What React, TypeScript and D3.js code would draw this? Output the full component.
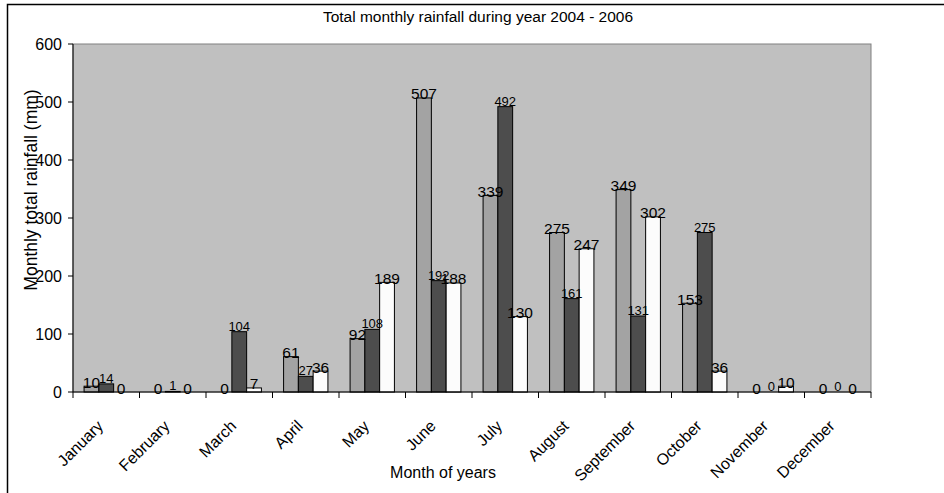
import React from "react";
import * as d3 from "d3";

const months = ["January","February","March","April","May","June","July","August","September","October","November","December"];
const seriesNames = ["2004","2005","2006"];
const rain2004 = [10, 0, 0, 61, 92, 507, 339, 275, 349, 153, 0, 0];
const rain2005 = [14, 1, 104, 27, 108, 192, 492, 161, 131, 275, 0, 0];
const rain2006 = [0, 0, 7, 36, 189, 188, 130, 247, 302, 36, 10, 0];
const yTicks = [0, 100, 200, 300, 400, 500, 600];

const seriesValues = [rain2004, rain2005, rain2006];
const seriesColors = ["#a3a3a3", "#4d4d4d", "#fcfcfc"];
const labelFont = [15.5, 13, 15.5];
const labelDy = [1.5, -1, 1.5];

const W = 944, H = 493;
const L = 73, R = 871, T = 44, B = 392;
const FONT = "'Liberation Sans', Arial, sans-serif";

export default function App() {
  const x = d3.scaleBand<string>().domain(months).range([L, R]).padding(0);
  const xi = d3.scaleBand<string>().domain(seriesNames).range([0, x.bandwidth()]).paddingInner(0).paddingOuter(0.75);
  const y = d3.scaleLinear().domain([0, 600]).range([B, T]);

  const boundaries = months.map((m) => x(m) as number).concat([R]);

  return (
    <svg width={W} height={H} style={{ position: "absolute", left: 0, top: 0, background: "#fff" }} fontFamily={FONT}>
      <rect x={7.5} y={4.5} width={W + 10} height={H + 10} fill="#fff" stroke="#000" strokeWidth={1.5} />
      <text x={478} y={22} textAnchor="middle" fontSize={15.5}>Total monthly rainfall during year 2004 - 2006</text>
      <rect x={L} y={T} width={R - L} height={B - T} fill="#c0c0c0" stroke="#808080" strokeWidth={1} />
      {months.map((m, i) =>
        seriesNames.map((s, j) => {
          const v = seriesValues[j][i];
          const bx = (x(m) as number) + (xi(s) as number);
          return (
            <rect key={m + s} x={bx} y={y(v)} width={xi.bandwidth()} height={B - y(v)}
              fill={seriesColors[j]} stroke="#000" strokeWidth={1} />
          );
        })
      )}
      {months.map((m, i) =>
        seriesNames.map((s, j) => {
          const v = seriesValues[j][i];
          const cx = (x(m) as number) + (xi(s) as number) + xi.bandwidth() / 2;
          return (
            <text key={"l" + m + s} x={cx} y={y(v) + labelDy[j]} textAnchor="middle" fontSize={labelFont[j]} fill="#000">{v}</text>
          );
        })
      )}
      <line x1={L} x2={L} y1={T} y2={B} stroke="#000" />
      <line x1={L} x2={R} y1={B} y2={B} stroke="#000" />
      {yTicks.map((t) => (
        <g key={"yt" + t}>
          <line x1={L - 5} x2={L} y1={y(t)} y2={y(t)} stroke="#000" />
          <text x={62} y={y(t)} dy="0.35em" textAnchor="end" fontSize={16}>{t}</text>
        </g>
      ))}
      {boundaries.map((bx, i) => (
        <line key={"xt" + i} x1={bx} x2={bx} y1={B} y2={B + 6} stroke="#000" />
      ))}
      {months.map((m) => {
        const cx = (x(m) as number) + x.bandwidth() / 2 - 2;
        const ay = 427;
        return (
          <text key={"xl" + m} x={cx} y={ay} textAnchor="end" fontSize={16} transform={`rotate(-45 ${cx} ${ay})`}>{m}</text>
        );
      })}
      <text x={443} y={478} textAnchor="middle" fontSize={16}>Month of years</text>
      <text x={0} y={0} textAnchor="middle" fontSize={17.5} transform={`translate(37 190) rotate(-90)`}>Monthly total rainfall (mm)</text>
    </svg>
  );
}
